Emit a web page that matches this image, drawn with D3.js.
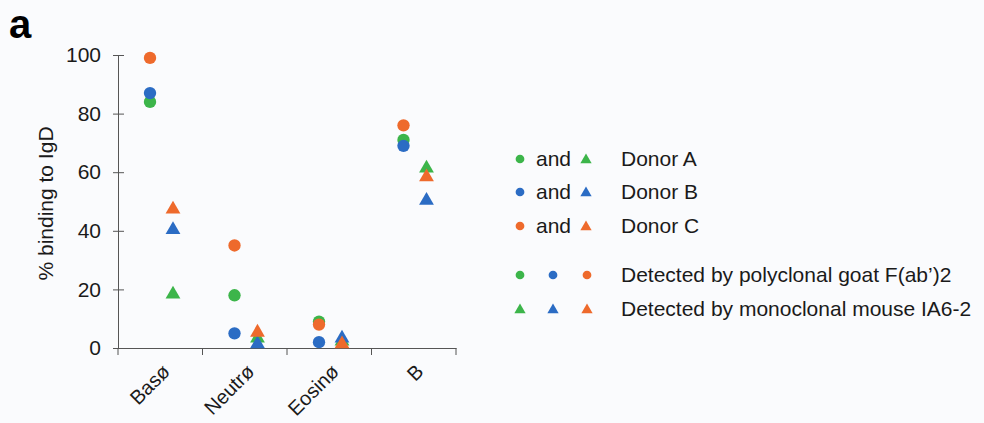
<!DOCTYPE html>
<html>
<head>
<meta charset="utf-8">
<script src="https://cdn.jsdelivr.net/npm/d3@7"></script>
<style>
  body { margin: 0; background: #fafbfd; }
  text { font-family: "Liberation Sans", Arial, sans-serif; fill: #1a1a1a; }
</style>
</head>
<body>
<div id="chart"></div>
<script>
// data
const cells = ["Basø", "Neutrø", "Eosinø", "B"];
const donors = ["Donor A", "Donor B", "Donor C"];
const donorColors = ["#3cb54a", "#2b6cc4", "#ee6a2c"];
// polyclonal goat F(ab')2 (circles), per donor, per cell type
const polyA = [84, 18, 9, 71];
const polyB = [87, 5, 2, 69];
const polyC = [99, 35, 8, 76];
// monoclonal mouse IA6-2 (triangles)
const monoA = [18, 3, 2, 61];
const monoB = [40, 1, 3, 50];
const monoC = [47, 5, 1, 58];
const yTicks = [0, 20, 40, 60, 80, 100];

const width = 984, height = 423;
const margin = { left: 118, top: 55, right: 528, bottom: 75 };
const fs = "21px";

const svg = d3.select("#chart").append("svg")
  .attr("width", width)
  .attr("height", height);

const x = d3.scaleBand()
  .domain(cells)
  .range([margin.left, width - margin.right]);

const y = d3.scaleLinear()
  .domain([0, 100])
  .range([height - margin.bottom, margin.top]);

// panel letter
svg.append("text")
  .attr("x", 9).attr("y", 38)
  .style("font-size", "40px").style("font-weight", "bold")
  .style("fill", "#000")
  .text("a");

// y axis
const yAxis = svg.append("g")
  .attr("transform", "translate(" + margin.left + ",0)")
  .call(d3.axisLeft(y).tickValues(yTicks).tickSize(5).tickPadding(12));
yAxis.selectAll(".tick line").attr("x2", 6).attr("x1", -5);
yAxis.selectAll("text").style("font-size", fs);

// x axis
const xAxis = svg.append("g")
  .attr("transform", "translate(0," + y(0) + ")")
  .call(d3.axisBottom(x).tickSize(0).tickFormat(""));
xAxis.selectAll(".tick").remove();
const bounds = cells.map(c => x(c)).concat([x.range()[1]]);
xAxis.selectAll(".sep")
  .data(bounds)
  .enter().append("line")
  .attr("x1", d => d).attr("x2", d => d)
  .attr("y1", 0).attr("y2", 7)
  .attr("stroke", "#555");

svg.selectAll("path.domain, .tick line").attr("stroke", "#555");

// category labels
svg.selectAll(".cat")
  .data(cells)
  .enter().append("text")
  .attr("class", "cat")
  .attr("transform", d => "translate(" + (x(d) + x.bandwidth() / 2 + 1) + "," + (y(0) + 15) + ") rotate(-45)")
  .attr("text-anchor", "end")
  .attr("dy", "0.7em")
  .style("font-size", "20px")
  .text(d => d);

// y label
svg.append("text")
  .attr("transform", "translate(53," + ((y(0) + y(100)) / 2 + 2) + ") rotate(-90)")
  .attr("text-anchor", "middle")
  .style("font-size", fs)
  .text("% binding to IgD");

const circOff = 32, triOff = 55;
const circle = d3.symbol().type(d3.symbolCircle).size(120);
const tri = d3.symbol().type(d3.symbolTriangle).size(95);

const mono = [monoA, monoB, monoC];
const poly = [polyA, polyB, polyC];

// triangles first, circles on top
[0, 1, 2].forEach(i => {
  svg.selectAll(".tri" + i)
    .data(mono[i])
    .enter().append("path")
    .attr("d", tri)
    .attr("fill", donorColors[i])
    .attr("transform", (d, j) => "translate(" + (x(cells[j]) + triOff) + "," + (y(d) - 1) + ")");
});
[0, 2, 1].forEach(i => {
  svg.selectAll(".circ" + i)
    .data(poly[i])
    .enter().append("path")
    .attr("d", circle)
    .attr("fill", donorColors[i])
    .attr("transform", (d, j) => "translate(" + (x(cells[j]) + circOff) + "," + y(d) + ")");
});

// legend
const lg = svg.append("g");
const rowY = [159, 192, 226];
const sCirc = d3.symbol().type(d3.symbolCircle).size(60);
const sTri = d3.symbol().type(d3.symbolTriangle).size(55);

donors.forEach((dn, i) => {
  lg.append("path").attr("d", sCirc).attr("fill", donorColors[i])
    .attr("transform", "translate(520," + rowY[i] + ")");
  lg.append("text").attr("x", 536).attr("y", rowY[i] + 7)
    .style("font-size", fs).text("and");
  lg.append("path").attr("d", sTri).attr("fill", donorColors[i])
    .attr("transform", "translate(586," + (rowY[i] + 1) + ")");
  lg.append("text").attr("x", 621).attr("y", rowY[i] + 7)
    .style("font-size", fs).text(dn);
});

const methodLabels = ["Detected by polyclonal goat F(ab')2", "Detected by monoclonal mouse IA6-2"];
const methodY = [275, 309];
const colX = [520, 553, 587];
methodLabels.forEach((lbl, k) => {
  donorColors.forEach((c, i) => {
    lg.append("path").attr("d", k === 0 ? sCirc : sTri).attr("fill", c)
      .attr("transform", "translate(" + colX[i] + "," + (methodY[k] + (k === 1 ? 1 : 0)) + ")");
  });
  lg.append("text").attr("x", 621).attr("y", methodY[k] + 7)
    .style("font-size", fs).text(lbl.replace("'", "’"));
});
</script>
</body>
</html>
